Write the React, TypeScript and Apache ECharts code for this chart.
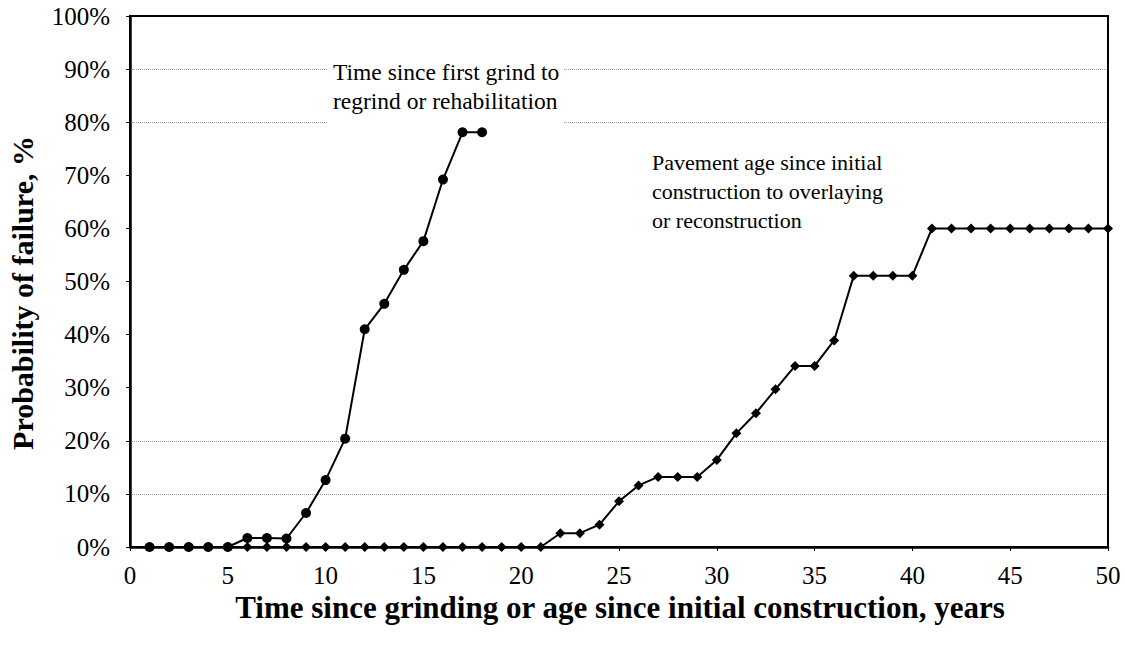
import React, { useEffect, useRef } from "react";
import * as echarts from "echarts";

const grindX = [1, 2, 3, 4, 5, 6, 7, 8, 9, 10, 11, 12, 13, 14, 15, 16, 17, 18];
const grindY = [0, 0, 0, 0, 0, 1.7, 1.7, 1.6, 6.4, 12.6, 20.4, 41, 45.8, 52.2, 57.6, 69.2, 78.1, 78.1];

const paveX = [
  1, 2, 3, 4, 5, 6, 7, 8, 9, 10, 11, 12, 13, 14, 15, 16, 17, 18, 19, 20, 21, 22, 23, 24, 25,
  26, 27, 28, 29, 30, 31, 32, 33, 34, 35, 36, 37, 38, 39, 40, 41, 42, 43, 44, 45, 46, 47, 48, 49, 50,
];
const paveY = [
  0, 0, 0, 0, 0, 0, 0, 0, 0, 0, 0, 0, 0, 0, 0, 0, 0, 0, 0, 0, 0, 2.6, 2.6, 4.2, 8.6,
  11.6, 13.2, 13.2, 13.2, 16.4, 21.4, 25.2, 29.7, 34.1, 34.1, 38.9, 51.1, 51.1, 51.1, 51.1,
  60, 60, 60, 60, 60, 60, 60, 60, 60, 60,
];

const grindLabel = ["Time since first grind to", "regrind or rehabilitation"];
const paveLabel = ["Pavement age since initial", "construction to overlaying", "or reconstruction"];
const xTitle = "Time since grinding or age since initial construction, years";
const yTitle = "Probability of failure, %";

const FONT = "Liberation Serif";

export default function App() {
  const ref = useRef<HTMLDivElement>(null);
  useEffect(() => {
    if (!ref.current) return;
    const chart = echarts.init(ref.current, null, { renderer: "svg" });
    const gridColors = [
      "transparent", "#9a9a9a", "#9a9a9a", "transparent", "transparent", "transparent",
      "transparent", "transparent", "#9a9a9a", "#9a9a9a", "transparent",
    ];
    chart.setOption({
      animation: false,
      backgroundColor: "#ffffff",
      grid: {
        left: 130, right: 17, top: 16, bottom: 103,
        show: true, borderColor: "#000", borderWidth: 2, backgroundColor: "transparent",
      },
      xAxis: {
        type: "value", min: 0, max: 50, interval: 5,
        axisLine: { show: true, lineStyle: { color: "#000", width: 2.5 } },
        axisTick: { show: true, length: 4, lineStyle: { color: "#000" } },
        axisLabel: { fontFamily: FONT, fontSize: 25, color: "#000", margin: 16 },
        splitLine: { show: false },
      },
      yAxis: {
        type: "value", min: 0, max: 100, interval: 10,
        axisLine: { show: true, lineStyle: { color: "#000", width: 2.5 } },
        axisTick: { show: true, length: 4, lineStyle: { color: "#000" } },
        axisLabel: {
          fontFamily: FONT, fontSize: 25, color: "#000", margin: 20,
          formatter: (v: number) => v + "%",
        },
        splitLine: { show: true, lineStyle: { color: gridColors, type: "dotted", width: 1 } },
      },
      series: [
        {
          type: "line",
          data: grindX.map((x, i) => [x, grindY[i]]),
          symbol: "circle", symbolSize: 10,
          lineStyle: { color: "#000", width: 2 },
          itemStyle: { color: "#000" },
          z: 3,
        },
        {
          type: "line",
          data: paveX.map((x, i) => [x, paveY[i]]),
          symbol: "diamond", symbolSize: 10,
          lineStyle: { color: "#000", width: 2 },
          itemStyle: { color: "#000" },
          z: 2,
        },
      ],
      graphic: [
        {
          type: "rect", z: 1,
          shape: { x: 327, y: 55, width: 236, height: 72 },
          style: { fill: "#fff" },
        },
        {
          type: "text", x: 333, y: 57, z: 2,
          style: {
            text: grindLabel.join("\n"), fontFamily: FONT, fontSize: 23.5, lineHeight: 29,
            fill: "#000",
          },
        },
        {
          type: "text", x: 652, y: 148, z: 2,
          style: {
            text: paveLabel.join("\n"), fontFamily: FONT, fontSize: 22, lineHeight: 29,
            fill: "#000",
          },
        },
        {
          type: "text", x: 620, y: 607, z: 2,
          style: {
            text: xTitle, fontFamily: FONT, fontSize: 31, fontWeight: "bold",
            fill: "#000", align: "center", verticalAlign: "middle",
          },
        },
        {
          type: "text", x: 22, y: 293, z: 2, rotation: Math.PI / 2,
          style: {
            text: yTitle, fontFamily: FONT, fontSize: 30, fontWeight: "bold",
            fill: "#000", align: "center", verticalAlign: "middle",
          },
        },
      ],
    });
    return () => chart.dispose();
  }, []);
  return <div ref={ref} style={{ width: 1125, height: 650, position: "absolute", left: 0, top: 0 }} />;
}
